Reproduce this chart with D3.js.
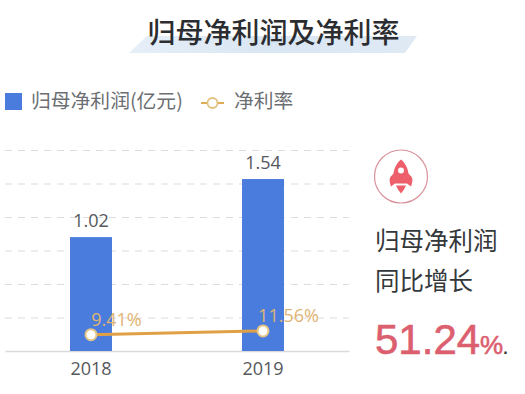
<!DOCTYPE html>
<html>
<head>
<meta charset="utf-8">
<script src="https://cdn.jsdelivr.net/npm/d3@7"></script>
<style>
  html, body { margin:0; padding:0; background:#fff; }
  svg { display:block; }
  text { font-family:"Noto Sans CJK SC","Noto Sans",sans-serif; }
  .num { font-family:"Open Sans","Noto Sans",sans-serif; }
</style>
</head>
<body>
<div class="chart"></div>
<script>
const years = ["2018","2019"];
const profit = [1.02,1.54];
const margin = [9.41,11.56];
const marginLabels = ["9.41%","11.56%"];
const profitTicks = [0,0.3,0.6,0.9,1.2,1.5,1.8];
const legendNames = ["归母净利润(亿元)","净利率"];
const sideLines = ["归母净利润","同比增长"];
const growth = "51.24";

const chart = {width:525,height:394};
const plot = {left:5,right:349,top:150,bottom:351};

const svg = d3.select(".chart").append("svg")
  .attr("width",chart.width)
  .attr("height",chart.height);

// title with the slanted band behind it
svg.append("defs").append("linearGradient")
  .attr("id","band")
  .selectAll("stop")
  .data([["0%","#e6eff8"],["50%","#d9e6f3"],["100%","#dfeaf5"]])
  .enter().append("stop")
    .attr("offset",d=>d[0])
    .attr("stop-color",d=>d[1]);

svg.append("path")
  .attr("d","M147,36L417,36L405,53L129,53Z")
  .attr("fill","url(#band)");

svg.append("text")
  .attr("x",273.5)
  .attr("y",42.5)
  .attr("text-anchor","middle")
  .attr("font-size",28)
  .attr("font-weight",500)
  .attr("fill","#2b2d30")
  .text("归母净利润及净利率");

// legend
svg.append("rect")
  .attr("x",5).attr("y",93)
  .attr("width",17).attr("height",17)
  .attr("fill","#4a7cdd");
svg.append("text")
  .attr("x",31).attr("y",108)
  .attr("font-size",19.8)
  .attr("fill","#6b6e72")
  .text(legendNames[0]);
svg.append("line")
  .attr("x1",201).attr("x2",224)
  .attr("y1",103).attr("y2",103)
  .attr("stroke","#e0ac55").attr("stroke-width",2);
svg.append("circle")
  .attr("cx",212.5).attr("cy",103).attr("r",5)
  .attr("fill","#fff").attr("stroke","#e0c27e").attr("stroke-width",1.8);
svg.append("text")
  .attr("x",234).attr("y",108)
  .attr("font-size",19.8)
  .attr("fill","#6b6e72")
  .text(legendNames[1]);

// scales
const xScale = d3.scaleBand()
  .domain(years)
  .range([plot.left,plot.right])
  .paddingInner(0.756)
  .paddingOuter(0.378);
const yScale = d3.scaleLinear()
  .domain([0,1.8])
  .range([plot.bottom,plot.top]);
const rateScale = d3.scaleLinear()
  .domain([0,116])
  .range([plot.bottom,plot.top]);

// dashed grid
const grid = svg.append("g")
  .attr("transform",`translate(${plot.left},0)`)
  .call(d3.axisRight(yScale).tickValues(profitTicks.slice(1)).tickSize(plot.right-plot.left).tickFormat(""));
grid.select(".domain").remove();
grid.selectAll("line")
  .attr("stroke","#dcdcdc")
  .attr("stroke-width",1.2)
  .attr("stroke-dasharray","7 6");

// x axis
const xAxis = svg.append("g")
  .attr("transform",`translate(0,${plot.bottom})`)
  .call(d3.axisBottom(xScale).tickSize(0).tickPadding(11));
xAxis.select(".domain")
  .attr("stroke","#dadade")
  .attr("stroke-width",1.3);
xAxis.selectAll("text")
  .attr("class","num")
  .attr("font-size",18)
  .attr("fill","#55585c");

// bars
svg.selectAll(".bar")
  .data(profit)
  .enter().append("rect")
    .attr("class","bar")
    .attr("x",(d,i)=>xScale(years[i]))
    .attr("y",d=>yScale(d))
    .attr("width",xScale.bandwidth())
    .attr("height",d=>plot.bottom-yScale(d))
    .attr("fill","#4a7cdd");

svg.selectAll(".barlabel")
  .data(profit)
  .enter().append("text")
    .attr("class","num barlabel")
    .attr("x",(d,i)=>xScale(years[i])+xScale.bandwidth()/2)
    .attr("y",d=>yScale(d)-10)
    .attr("text-anchor","middle")
    .attr("font-size",18)
    .attr("fill","#55585c")
    .text(d=>d.toFixed(2));

// rate line
const rateLine = d3.line()
  .x((d,i)=>xScale(years[i])+xScale.bandwidth()/2)
  .y(d=>rateScale(d));
svg.append("path")
  .attr("d",rateLine(margin))
  .attr("fill","none")
  .attr("stroke","#e0a045")
  .attr("stroke-width",3);
svg.selectAll(".dot")
  .data(margin)
  .enter().append("circle")
    .attr("class","dot")
    .attr("cx",(d,i)=>xScale(years[i])+xScale.bandwidth()/2)
    .attr("cy",d=>rateScale(d))
    .attr("r",5.5)
    .attr("fill","#fff")
    .attr("stroke","#e3c587")
    .attr("stroke-width",2);
svg.selectAll(".ratelabel")
  .data(margin)
  .enter().append("text")
    .attr("class","num ratelabel")
    .attr("x",(d,i)=>xScale(years[i])+xScale.bandwidth()/2+25.5)
    .attr("y",d=>rateScale(d)-8.5)
    .attr("text-anchor","middle")
    .attr("font-size",18)
    .attr("fill","#dfb474")
    .text((d,i)=>marginLabels[i]);

// rocket badge
const badge = svg.append("g").attr("transform","translate(401,176.5)");
badge.append("circle")
  .attr("r",26.5)
  .attr("fill","#fff")
  .attr("stroke","#d9929b")
  .attr("stroke-width",1.2);
badge.append("path")
  .attr("fill","#ec5f6b")
  .attr("d","M0,-17C5,-13 7,-7 7.5,-3L11,1C12,4 11,7 10,10L6,7L-6,7L-10,10C-11,7 -12,4 -11,1L-7.5,-3C-7,-7 -5,-13 0,-17Z");
badge.append("path")
  .attr("fill","#ec5f6b")
  .attr("d","M-5,9L5,9L3,13L0,17L-3,13Z");
badge.append("circle")
  .attr("cy",-6).attr("r",3)
  .attr("fill","#fff");

// right side note
svg.selectAll(".side")
  .data(sideLines)
  .enter().append("text")
    .attr("class","side")
    .attr("x",375)
    .attr("y",(d,i)=>250+i*40)
    .attr("font-size",24.5)
    .attr("fill","#35383b")
    .text(d=>d);

const big = svg.append("text")
  .attr("x",375)
  .attr("y",354)
  .attr("fill","#dc5f70")
  .attr("stroke","#dc5f70")
  .attr("stroke-width",0.6)
  .style("font-family","'Liberation Sans',Arial,sans-serif");
big.append("tspan")
  .attr("font-size",42)
  .text(growth);
big.append("tspan")
  .attr("font-size",26)
  .text("%");
big.append("tspan")
  .attr("font-size",16)
  .attr("font-weight",700)
  .attr("fill","#333")
  .attr("stroke","none")
  .text(".");
</script>
</body>
</html>
